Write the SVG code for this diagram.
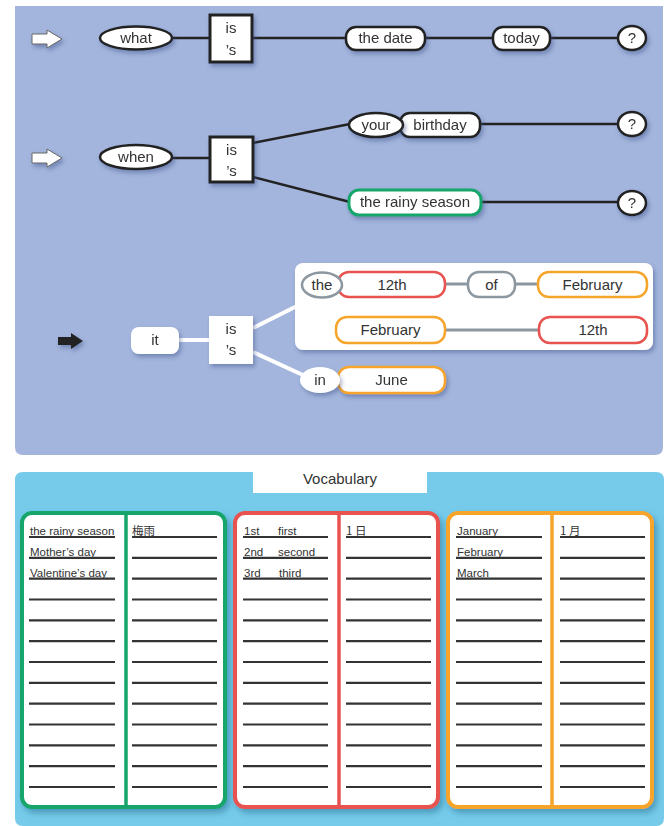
<svg xmlns="http://www.w3.org/2000/svg" width="666" height="826" viewBox="0 0 666 826">
<defs>
<filter id="sh" x="-30%" y="-30%" width="160%" height="170%">
<feDropShadow dx="2" dy="3" stdDeviation="2" flood-color="#3c4f86" flood-opacity="0.45"/>
</filter>
<filter id="csh" x="-10%" y="-10%" width="120%" height="120%">
<feDropShadow dx="3" dy="4" stdDeviation="3" flood-color="#2a6f93" flood-opacity="0.55"/>
</filter>
<style>
text{font-family:"Liberation Sans",Arial,sans-serif;fill:#333;}
.t{font-size:15px;text-anchor:middle;}
.v{font-size:11.5px;}
.blk{fill:#fff;stroke:#222;stroke-width:2.5;}
.box{fill:#fff;stroke:#222;stroke-width:3;}
.wn{fill:#fff;}
.red{fill:#fff;stroke:#e8524f;stroke-width:2.5;}
.org{fill:#fff;stroke:#f6a52c;stroke-width:2.5;}
.gry{fill:#fff;stroke:#8d979f;stroke-width:2.5;}
.grn{fill:#fff;stroke:#15a56b;stroke-width:3;}
.ln{stroke:#222;stroke-width:2.5;fill:none;}
.wl{stroke:#fff;stroke-width:4;fill:none;}
.gl{stroke:#8d979f;stroke-width:3;fill:none;}
.rl{stroke:#333;stroke-width:2.2;}
.cjk{font-family:"Noto Sans CJK JP","Noto Sans CJK SC",sans-serif;}
</style>
</defs>
<!-- top panel -->
<path d="M15,6 H663 V447 Q663,455 655,455 H23 Q15,455 15,447 Z" fill="#a3b5dc"/>
<!-- connectors -->
<g id="connectors">
<line class="ln" x1="172" y1="38" x2="210" y2="38"/>
<line class="ln" x1="252" y1="38" x2="346" y2="38"/>
<line class="ln" x1="425" y1="38" x2="493" y2="38"/>
<line class="ln" x1="550" y1="38" x2="618" y2="38"/>
<line class="ln" x1="172" y1="158" x2="210" y2="158"/>
<line class="ln" x1="253" y1="143" x2="350" y2="124"/>
<line class="ln" x1="253" y1="177" x2="350" y2="202"/>
<line class="ln" x1="480" y1="124" x2="618" y2="124"/>
<line class="ln" x1="481" y1="202" x2="618" y2="202"/>
<line class="wl" x1="179" y1="340" x2="210" y2="340"/>
<line class="wl" x1="253" y1="328" x2="297" y2="306"/>
<line class="wl" x1="253" y1="352" x2="305" y2="376"/>
</g>
<!-- arrows -->
<g id="arrow1" filter="url(#sh)"><polygon points="32,34 47,34 47,30 62,39 47,48 47,44 32,44" fill="#fff" stroke="#666" stroke-width="1"/></g>
<g id="arrow2" filter="url(#sh)"><polygon points="32,153 47,153 47,149 62,158 47,167 47,163 32,163" fill="#fff" stroke="#666" stroke-width="1"/></g>
<g id="arrow3" filter="url(#sh)"><polygon points="58,337 71,337 71,333 83,341 71,349 71,345 58,345" fill="#222"/></g>
<!-- row 1 -->
<g id="what" filter="url(#sh)"><ellipse class="blk" cx="136" cy="38" rx="36" ry="11.5"/><text class="t" x="136" y="43">what</text></g>
<g id="is1" filter="url(#sh)"><rect class="box" x="210" y="15" width="42" height="47"/><text class="t" x="231" y="33">is</text><text class="t" x="231" y="55">’s</text></g>
<g id="thedate" filter="url(#sh)"><rect class="blk" x="346" y="27" width="79" height="23" rx="10"/><text class="t" x="385.5" y="43">the date</text></g>
<g id="today" filter="url(#sh)"><rect class="blk" x="493" y="27" width="57" height="23" rx="10"/><text class="t" x="521.5" y="43">today</text></g>
<g id="q1" filter="url(#sh)"><ellipse class="blk" cx="632" cy="38" rx="14" ry="12"/><text class="t" x="632" y="43">?</text></g>
<!-- row 2 -->
<g id="when" filter="url(#sh)"><ellipse class="blk" cx="136" cy="157" rx="36" ry="12"/><text class="t" x="136" y="162">when</text></g>
<g id="is2" filter="url(#sh)"><rect class="box" x="210" y="137" width="43" height="45"/><text class="t" x="231.5" y="155">is</text><text class="t" x="231.5" y="176">’s</text></g>
<g id="birthday" filter="url(#sh)"><rect class="blk" x="400" y="113" width="80" height="24" rx="10"/><text class="t" x="440" y="130">birthday</text></g>
<g id="your" filter="url(#sh)"><ellipse class="blk" cx="376" cy="125" rx="27" ry="12"/><text class="t" x="376" y="130">your</text></g>
<g id="q2" filter="url(#sh)"><ellipse class="blk" cx="632" cy="124" rx="14" ry="12"/><text class="t" x="632" y="129">?</text></g>
<g id="rainy" filter="url(#sh)"><rect class="grn" x="349" y="190" width="132" height="25" rx="10"/><text class="t" x="415" y="207">the rainy season</text></g>
<g id="q3" filter="url(#sh)"><ellipse class="blk" cx="632" cy="203" rx="14" ry="12"/><text class="t" x="632" y="208">?</text></g>
<!-- row 3 -->
<g id="it" filter="url(#sh)"><rect class="wn" x="131" y="327" width="48" height="27" rx="8"/><text class="t" x="155" y="345">it</text></g>
<g id="is3" filter="url(#sh)"><rect class="wn" x="209" y="316" width="44" height="48"/><text class="t" x="231" y="334">is</text><text class="t" x="231" y="355">’s</text></g>
<g id="datepanel">
<rect x="295" y="263" width="358" height="87" rx="8" fill="#fff" filter="url(#sh)"/>
<line class="gl" x1="446" y1="284" x2="468" y2="284"/>
<line class="gl" x1="515" y1="284" x2="538" y2="284"/>
<line class="gl" x1="445" y1="330" x2="539" y2="330"/>
</g>
<g id="n12th"><rect class="red" x="338" y="272" width="107" height="25" rx="11"/><text class="t" x="392" y="290">12th</text></g>
<g id="the"><ellipse class="gry" cx="322" cy="285" rx="20" ry="12.5"/><text class="t" x="322" y="290">the</text></g>
<g id="of"><rect class="gry" x="468" y="272" width="47" height="25" rx="11"/><text class="t" x="491.5" y="290">of</text></g>
<g id="feb1"><rect class="org" x="538" y="272" width="109" height="25" rx="11"/><text class="t" x="592.5" y="290">February</text></g>
<g id="feb2"><rect class="org" x="336" y="317" width="109" height="26" rx="11"/><text class="t" x="390.5" y="335">February</text></g>
<g id="n12th2"><rect class="red" x="539" y="317" width="108" height="26" rx="11"/><text class="t" x="593" y="335">12th</text></g>
<g id="june" filter="url(#sh)"><rect class="org" x="338" y="367" width="107" height="26" rx="11"/><text class="t" x="391.5" y="385">June</text></g>
<g id="in" filter="url(#sh)"><ellipse class="wn" cx="320" cy="380" rx="20" ry="13"/><text class="t" x="320" y="385">in</text></g>
<!-- vocabulary panel -->
<path d="M23,472 H656 Q664,472 664,480 V818 Q664,826 656,826 H23 Q15,826 15,818 V480 Q15,472 23,472 Z" fill="#76cbea"/>
<g id="vocab-tab"><rect x="253" y="460" width="174" height="33" fill="#fff"/><text class="t" x="340" y="484">Vocabulary</text></g>
<!-- card green -->
<g id="card-green">
<rect x="22" y="513" width="203" height="294" rx="10" fill="#fff" stroke="#15a56b" stroke-width="4" filter="url(#csh)"/>
<line x1="126" y1="513" x2="126" y2="807" stroke="#15a56b" stroke-width="3.5"/>
<g class="rl">
<path d="M29,537H115M29,557.8H115M29,578.7H115M29,599.5H115M29,620.3H115M29,641.2H115M29,662H115M29,682.8H115M29,703.7H115M29,724.5H115M29,745.3H115M29,766.2H115M29,787H115"/>
<path d="M132,537H217M132,557.8H217M132,578.7H217M132,599.5H217M132,620.3H217M132,641.2H217M132,662H217M132,682.8H217M132,703.7H217M132,724.5H217M132,745.3H217M132,766.2H217M132,787H217"/>
</g>
<text class="v" x="30" y="535">the rainy season</text>
<text class="v" x="30" y="555.5">Mother’s day</text>
<text class="v" x="30" y="576.5">Valentine’s day</text>
<text class="v cjk" x="132" y="535">梅雨</text>
</g>
<!-- card red -->
<g id="card-red">
<rect x="235" y="513" width="203" height="294" rx="10" fill="#fff" stroke="#e8524f" stroke-width="4" filter="url(#csh)"/>
<line x1="339" y1="513" x2="339" y2="807" stroke="#e8524f" stroke-width="3.5"/>
<g class="rl">
<path d="M243,537H328M243,557.8H328M243,578.7H328M243,599.5H328M243,620.3H328M243,641.2H328M243,662H328M243,682.8H328M243,703.7H328M243,724.5H328M243,745.3H328M243,766.2H328M243,787H328"/>
<path d="M346,537H431M346,557.8H431M346,578.7H431M346,599.5H431M346,620.3H431M346,641.2H431M346,662H431M346,682.8H431M346,703.7H431M346,724.5H431M346,745.3H431M346,766.2H431M346,787H431"/>
</g>
<text class="v" x="244" y="535">1st</text><text class="v" x="278" y="535">first</text>
<text class="v" x="244" y="555.5">2nd</text><text class="v" x="278" y="555.5">second</text>
<text class="v" x="244" y="576.5">3rd</text><text class="v" x="279" y="576.5">third</text>
<text class="v cjk" x="346" y="535">1 日</text>
</g>
<!-- card orange -->
<g id="card-orange">
<rect x="448" y="513" width="204" height="294" rx="10" fill="#fff" stroke="#f6a52c" stroke-width="4" filter="url(#csh)"/>
<line x1="552" y1="513" x2="552" y2="807" stroke="#f6a52c" stroke-width="3.5"/>
<g class="rl">
<path d="M456,537H542M456,557.8H542M456,578.7H542M456,599.5H542M456,620.3H542M456,641.2H542M456,662H542M456,682.8H542M456,703.7H542M456,724.5H542M456,745.3H542M456,766.2H542M456,787H542"/>
<path d="M560,537H645M560,557.8H645M560,578.7H645M560,599.5H645M560,620.3H645M560,641.2H645M560,662H645M560,682.8H645M560,703.7H645M560,724.5H645M560,745.3H645M560,766.2H645M560,787H645"/>
</g>
<text class="v" x="457" y="535">January</text>
<text class="v" x="457" y="555.5">February</text>
<text class="v" x="457" y="576.5">March</text>
<text class="v cjk" x="560" y="535">1 月</text>
</g>
</svg>
